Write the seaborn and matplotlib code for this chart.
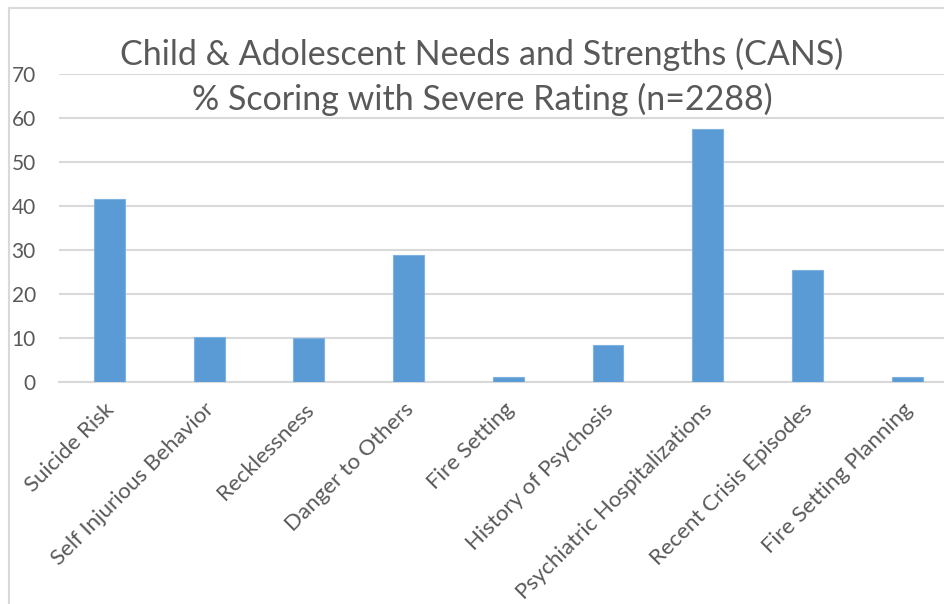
import matplotlib
matplotlib.use("Agg")
import matplotlib.pyplot as plt
import matplotlib.transforms as mtransforms
import seaborn as sns
import pandas as pd

categories = [
    "Suicide Risk",
    "Self Injurious Behavior",
    "Recklessness",
    "Danger to Others",
    "Fire Setting",
    "History of Psychosis",
    "Psychiatric Hospitalizations",
    "Recent Crisis Episodes",
    "Fire Setting Planning",
]
percent_severe = [41.5, 10.3, 10.0, 28.9, 1.1, 8.3, 57.4, 25.5, 1.1]
y_ticks = [0, 10, 20, 30, 40, 50, 60, 70]
title_lines = [
    "Child & Adolescent Needs and Strengths (CANS)",
    "% Scoring with Severe Rating (n=2288)",
]

df = pd.DataFrame({"item": categories, "pct": percent_severe})

sns.set_theme(style="white")
plt.rcParams["font.family"] = ["Lato", "DejaVu Sans"]

W, H = 945, 604
fig = plt.figure(figsize=(W / 100, H / 100), dpi=100)
fig.patch.set_facecolor("white")

text_color = "#595959"
grid_color = "#D9D9D9"
bar_color = "#5B9BD5"

# plot area in pixel coordinates (right edge runs past the canvas)
left_px, right_px = 59.5, 957.0
top_px, bottom_px = 74.0, 382.0
ax = fig.add_axes([
    left_px / W,
    (H - bottom_px) / H,
    (right_px - left_px) / W,
    (bottom_px - top_px) / H,
])

sns.barplot(data=df, x="item", y="pct", color=bar_color, width=0.31,
            saturation=1, ax=ax, zorder=3)
for p in ax.patches:
    p.set_edgecolor("#7FB2E0")
    p.set_linewidth(0.8)

ax.set_xlim(-0.5, len(categories) - 0.5)
ax.set_ylim(0, 70)
ax.set_yticks(y_ticks)
ax.set_yticklabels([str(t) for t in y_ticks], fontsize=15, color=text_color)
ax.tick_params(axis="y", length=0, pad=17)
ax.tick_params(axis="x", length=0, pad=6)
ax.set_xticks(range(len(categories)))
ax.set_xticklabels(categories, rotation=45, ha="right", rotation_mode="anchor",
                   fontsize=16, color=text_color)
shift = mtransforms.ScaledTranslation(-5 / 100, -9 / 100, fig.dpi_scale_trans)
for lbl in ax.get_xticklabels():
    lbl.set_transform(lbl.get_transform() + shift)
ax.set_xlabel("")
ax.set_ylabel("")

ax.yaxis.grid(True, color=grid_color, linewidth=1.5, zorder=0)
ax.xaxis.grid(False)
for s in ["top", "right", "left"]:
    ax.spines[s].set_visible(False)
ax.spines["bottom"].set_color(grid_color)
ax.spines["bottom"].set_linewidth(1.5)
ax.set_axisbelow(True)

# chart frame along the top and left edges
fig.add_artist(plt.Line2D([9 / W, 9 / W], [0, (H - 8) / H],
                          transform=fig.transFigure, color=grid_color, lw=1.5))
fig.add_artist(plt.Line2D([9 / W, 1], [(H - 8) / H, (H - 8) / H],
                          transform=fig.transFigure, color=grid_color, lw=1.5))

fig.text(482 / W, (H - 65) / H, title_lines[0], ha="center", va="baseline",
         fontsize=24.5, color=text_color)
fig.text(482 / W, (H - 110) / H, title_lines[1], ha="center", va="baseline",
         fontsize=24.5, color=text_color)

fig.savefig("out.png", dpi=100, facecolor="white")
